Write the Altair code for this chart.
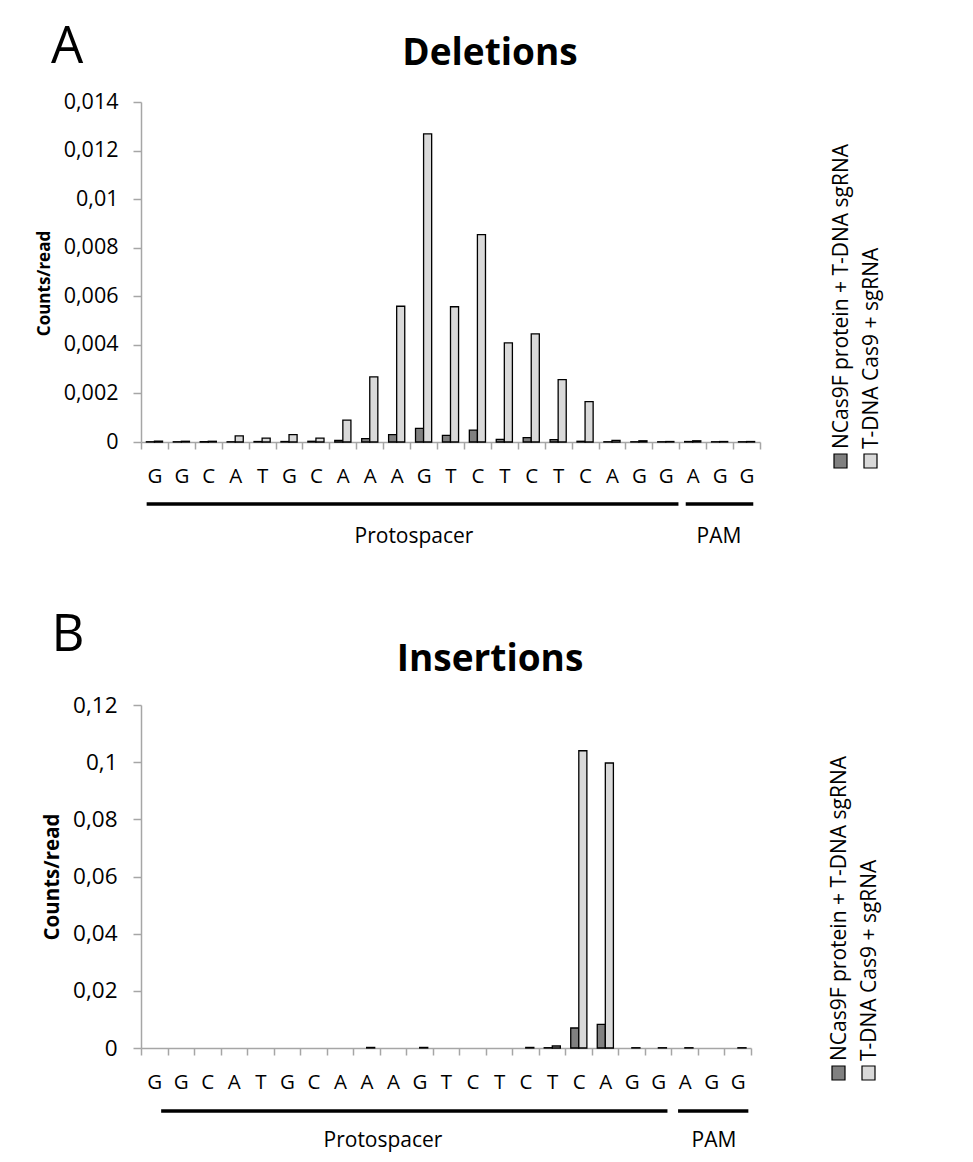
import altair as alt
import pandas as pd

BASES = list("GGCATGCAAAGTCTCTCAGGAGG")
SERIES = ["NCas9F protein + T-DNA sgRNA", "T-DNA Cas9 + sgRNA"]
SERIES_COLORS = ["#808080", "#d9d9d9"]

DEL_NCAS9F = [0.00001, 0.00001, 0.00001, 0.00001, 0.00002, 0.00002, 0.00003, 0.00007,
              0.00014, 0.0003, 0.00056, 0.00027, 0.00049, 0.00011, 0.00018, 0.0001,
              0.00003, 0.00001, 0.00001, 0.00001, 0.00002, 0.00001, 0.00001]
DEL_TDNA = [0.00003, 0.00003, 0.00003, 0.00025, 0.00016, 0.0003, 0.00016, 0.0009,
            0.00268, 0.00559, 0.01269, 0.00557, 0.00854, 0.00408, 0.00445, 0.00257,
            0.00166, 0.00007, 0.00005, 0.00002, 0.00005, 0.00002, 0.00002]

INS_NCAS9F = [0, 0, 0, 0, 0, 0, 0, 0, 0, 0, 0, 0, 0, 0, 0, 0.0001,
              0.0070, 0.0083, 0, 0, 0, 0, 0]
INS_TDNA = [0, 0, 0, 0, 0, 0, 0, 0, 0.0002, 0, 0.0002, 0, 0, 0, 0.0002, 0.0007,
            0.104, 0.0997, 0.0001, 0.0001, 0.0001, 0, 0.0001]

DEL_TICKS = [0, 0.002, 0.004, 0.006, 0.008, 0.01, 0.012, 0.014]
INS_TICKS = [0, 0.02, 0.04, 0.06, 0.08, 0.1, 0.12]

REGIONS = ["Protospacer", "PAM"]
REGION_SPANS = [(0, 19), (20, 22)]  # index of first and last base

KEYS = [f"{i:02d}{b}" for i, b in enumerate(BASES)]
FONT = "Open Sans"


def panel(title, letter, ncas, tdna, ticks, width, height, rule_bands, layout):
    rows = []
    for k, a, b in zip(KEYS, ncas, tdna):
        rows.append({"key": k, "series": SERIES[0], "value": a})
        rows.append({"key": k, "series": SERIES[1], "value": b})
    df = pd.DataFrame(rows)

    yaxis = dict(values=ticks, labelExpr="replace(format(datum.value, '~g'), '.', ',')",
                 labelFontSize=layout["ylab"], tickSize=8, labelPadding=layout["ypad"],
                 titleFontSize=layout["ytitle"], titleFontWeight="bold", titlePadding=10)
    if "titleY" in layout:
        yaxis["titleY"] = layout["titleY"]

    xscale = alt.Scale(domain=KEYS, paddingInner=0, paddingOuter=0)
    bars = alt.Chart(df).transform_filter("datum.value > 0").mark_bar(
        stroke="black", strokeWidth=1.3
    ).encode(
        x=alt.X("key:O", scale=xscale, title=None,
                axis=alt.Axis(labelExpr="isString(datum.value) ? substring(datum.value, 2) : ''",
                              labelAngle=0, tickBand="extent", labelFontSize=20.5,
                              labelPadding=layout["xpad"], tickSize=7)),
        xOffset=alt.XOffset("series:N", sort=SERIES,
                            scale=alt.Scale(domain=SERIES, paddingOuter=0.667, paddingInner=0)),
        y=alt.Y("value:Q", scale=alt.Scale(domain=[ticks[0], ticks[-1]], nice=False),
                title="Counts/read", axis=alt.Axis(**yaxis)),
        fill=alt.Fill("series:N", scale=alt.Scale(domain=SERIES, range=SERIES_COLORS), legend=None),
    )

    layers = [bars]
    for (s, e), (b0, b1) in zip(REGION_SPANS, rule_bands):
        rd = pd.DataFrame({"key": [KEYS[s]], "key_end": [KEYS[e]]})
        layers.append(alt.Chart(rd).mark_rule(strokeWidth=3.5, color="black").encode(
            x=alt.X("key:O", bandPosition=b0, title=None),
            x2=alt.X2("key_end", bandPosition=b1),
            y=alt.value(layout["rule_y"]),
        ))

    def txt(t, x, y, size, weight="normal", angle=0, align="center", baseline="middle"):
        return alt.Chart(pd.DataFrame({"t": [t]})).mark_text(
            font=FONT, fontSize=size, fontWeight=weight, angle=angle, align=align,
            baseline=baseline, color="black"
        ).encode(text="t:N", x=alt.value(x), y=alt.value(y))

    layers.append(txt(REGIONS[0], layout["proto_x"], layout["region_y"], 21))
    layers.append(txt(REGIONS[1], layout["pam_x"], layout["region_y"], 21))
    layers.append(txt(title, 349, layout["title_y"], 37, weight="bold", baseline="alphabetic"))
    layers.append(txt(letter, layout["letter_x"], layout["letter_y"], 51, baseline="alphabetic"))

    # legend
    for i, (name, col) in enumerate(zip(SERIES, SERIES_COLORS)):
        lx = layout["leg_x"] + i * 30
        ly = layout["leg_y"]
        layers.append(alt.Chart(pd.DataFrame({"t": [name]})).mark_rect(
            fill=col, stroke="black", strokeWidth=1.2
        ).encode(x=alt.value(lx - 13), x2=alt.value(lx), y=alt.value(ly), y2=alt.value(ly + 14)))
        layers.append(txt(name, lx + 1, ly - 5, 21, angle=270, align="left", baseline="alphabetic"))

    return alt.layer(*layers).properties(width=width, height=height)


top = panel("Deletions", "A", DEL_NCAS9F, DEL_TDNA, DEL_TICKS, 619, 340,
            [(0.21, 0.97), (0.24, 0.75)],
            {"rule_y": 402, "proto_x": 273, "pam_x": 578, "region_y": 435,
             "title_y": -37, "letter_x": -74, "letter_y": -39, "leg_x": 706, "leg_y": 352,
             "ylab": 21.5, "ypad": 15, "ytitle": 17, "titleY": 181, "xpad": 17})
bottom = panel("Insertions", "B", INS_NCAS9F, INS_TDNA, INS_TICKS, 610, 343,
               [(0.76, 0.85), (0.25, 0.9)],
               {"rule_y": 406, "proto_x": 242, "pam_x": 573, "region_y": 436,
                "title_y": -34, "letter_x": -73, "letter_y": -54, "leg_x": 704, "leg_y": 361,
                "ylab": 22.5, "ypad": 16, "ytitle": 20.5, "xpad": 17})

chart = alt.vconcat(top, bottom, spacing=263, bounds="flush").properties(
    padding={"left": 27, "top": 14, "right": 5, "bottom": 5}
).configure_view(stroke=None).configure_axis(
    labelFont=FONT, titleFont=FONT, labelColor="black", titleColor="black",
    domainColor="#a6a6a6", tickColor="#a6a6a6", domainWidth=1.5, tickWidth=1.5, grid=False
)

chart.save("out.html", embed_options={"renderer": "svg", "actions": False})
